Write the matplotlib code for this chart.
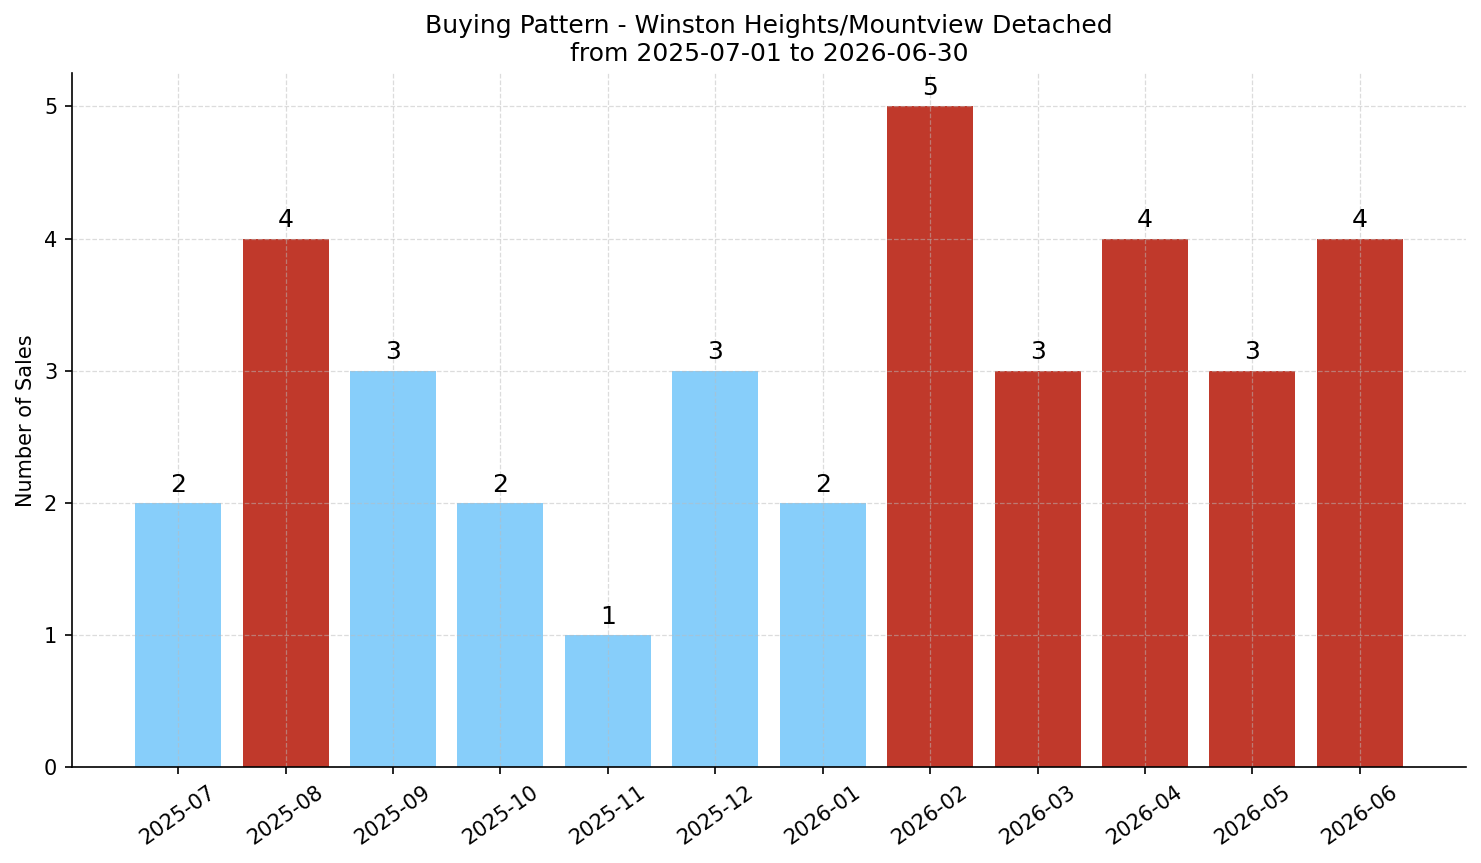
import numpy as np
import matplotlib.pyplot as plt

# monthly sales counts
months = ["2025-07", "2025-08", "2025-09", "2025-10", "2025-11", "2025-12",
          "2026-01", "2026-02", "2026-03", "2026-04", "2026-05", "2026-06"]
sales = [2, 4, 3, 2, 1, 3, 2, 5, 3, 4, 3, 4]
# months flagged as high (red) vs normal (blue)
high = [False, True, False, False, False, False, False, True, True, True, True, True]

BLUE = "#87CEFA"
RED = "#C0392B"


def main():
    fig, ax = plt.subplots(figsize=(1481 / 150, 863 / 150), dpi=150)
    x = np.arange(len(months))
    colors = [RED if h else BLUE for h in high]
    bars = ax.bar(x, sales, color=colors, width=0.8)
    ax.bar_label(bars, padding=3, fontsize=12)

    ax.set_xticks(x)
    ax.set_xticklabels(months, rotation=35)
    ax.set_ylabel("Number of Sales")
    ax.set_title("Buying Pattern - Winston Heights/Mountview Detached\nfrom 2025-07-01 to 2026-06-30",
                 fontsize=12)

    ax.grid(True, linestyle="--", alpha=0.5, color="#bbbbbb", linewidth=0.6)
    ax.spines["top"].set_visible(False)
    ax.spines["right"].set_visible(False)

    fig.subplots_adjust(left=0.0485, right=0.99, top=0.915, bottom=0.111)
    fig.savefig("out.png", dpi=150)


if __name__ == "__main__":
    main()
